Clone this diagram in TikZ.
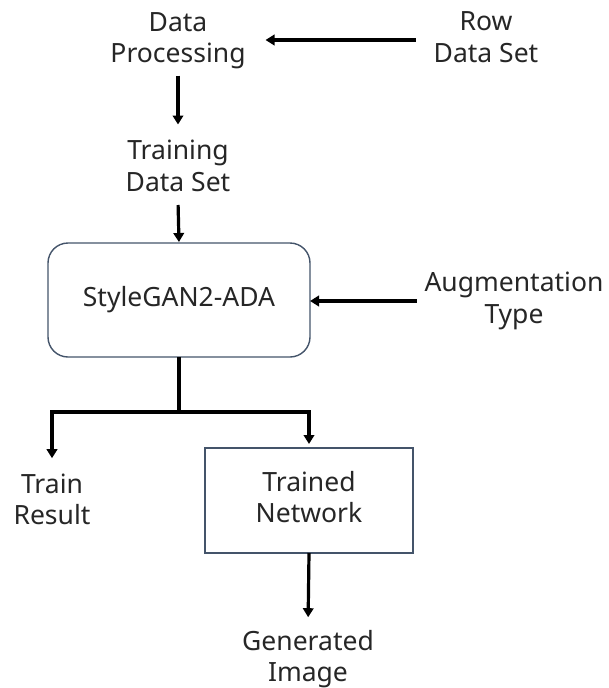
\documentclass[tikz,border=0pt]{standalone}
\usepackage{fontspec}
\setmainfont{Noto Sans}
\usetikzlibrary{arrows.meta}
\definecolor{txt}{HTML}{262626}
\definecolor{edge}{HTML}{44546A}
\tikzset{
  lbl/.style={align=center, inner sep=0pt, outer sep=0pt, text=txt,
              font=\fontsize{26.5}{31.5}\selectfont},
  roundbox/.style={lbl, draw=edge, line width=1.4pt, rounded corners=20pt},
  plainbox/.style={lbl, draw=edge, line width=1.4pt},
  arr/.style={draw=black, line width=3.2pt,
              -{Triangle[length=9pt,width=10.5pt]}},
}
\newcommand{\sline}{\strut}
\begin{document}
\begin{tikzpicture}[x=1pt,y=-1pt]
  \useasboundingbox (0,0) rectangle (608,688);

  % text labels
  \node[lbl] (dp)  at (178,40.7)  {Data\sline\\Processing\sline};
  \node[lbl] (row) at (486,40)    {Row\sline\\Data Set\sline};
  \node[lbl] (tds) at (178,169)   {Training\sline\\Data Set\sline};
  \node[lbl] (aug) at (514,301)   {Augmentation\sline\\Type\sline};
  \node[lbl] (tr)  at (52,502.7)  {Train\sline\\Result\sline};
  \node[lbl] (gi)  at (308,659.7) {Generated\sline\\Image\sline};

  % boxes
  \node[roundbox, minimum width=262pt, minimum height=114pt] (sg) at (179,300) {StyleGAN2-ADA};
  \node[plainbox, minimum width=208pt, minimum height=105pt] (tn) at (309,500.5) {Trained\sline\\Network\sline};

  % connectors
  \draw[arr, shorten <=18pt, shorten >=20pt] (row.west) -- (row.west -| dp.east);
  \draw[arr, shorten <=3.5pt, shorten >=13pt] (dp.south) -- (tds.north);
  \draw[arr, shorten <=4.5pt, shorten >=1pt] (tds.south) -- (sg.north);
  \draw[arr, shorten <=8pt, shorten >=0pt] (aug.west) -- (aug.west -| sg.east);
  \draw[arr, shorten >=13pt] (sg.south) -- ++(0,55) -| (tr.north);
  \draw[arr, shorten >=4pt] (sg.south) -- ++(0,55) -| (tn.north);
  \draw[arr, shorten >=11pt] (tn.south) -- (gi.north);
\end{tikzpicture}
\end{document}
